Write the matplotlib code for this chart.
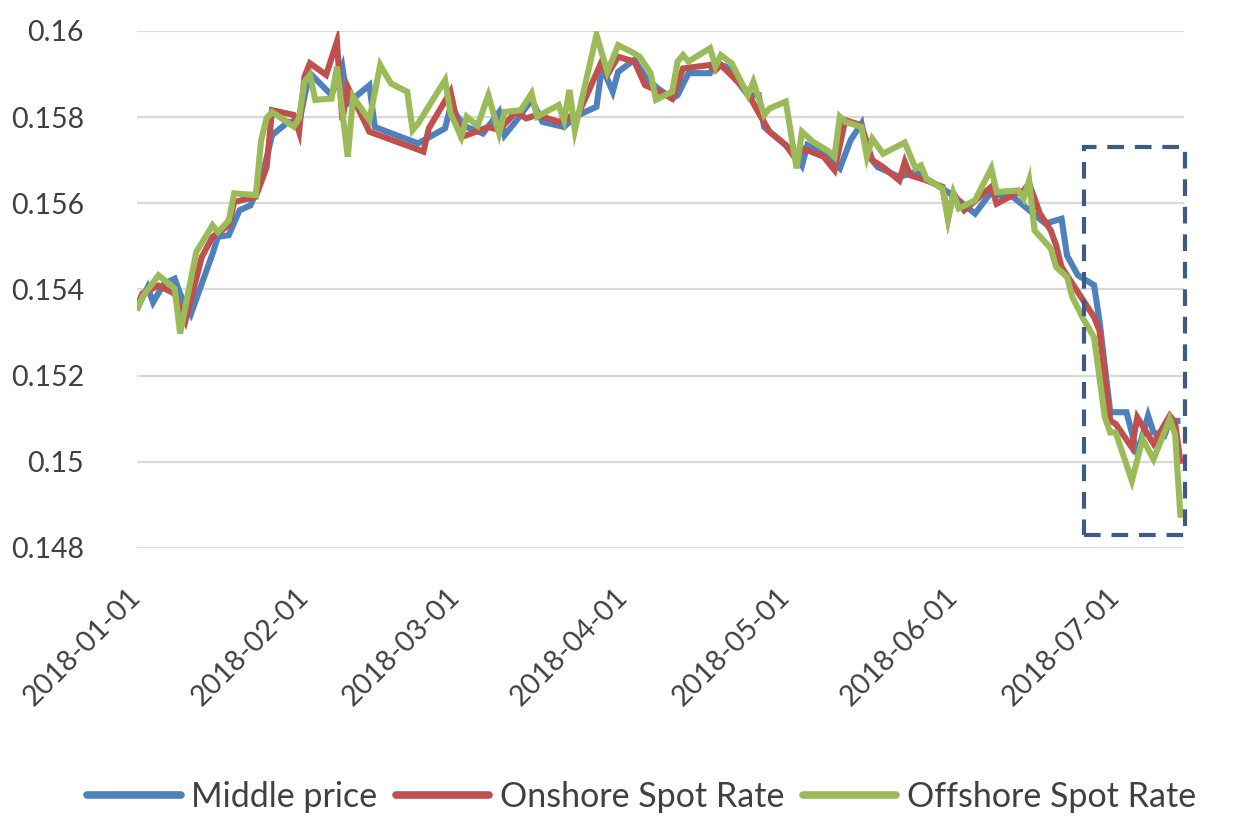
import matplotlib
matplotlib.use("Agg")
import matplotlib.pyplot as plt
import matplotlib.dates as mdates
import pandas as pd
from matplotlib.patches import Rectangle

plt.rcParams['font.family'] = ['Lato', 'DejaVu Sans']

# %% data: day offsets from 2018-01-01 and rates
start = pd.Timestamp('2018-01-01')

mid_days = [0, 2, 3, 5, 7, 8, 10, 12, 14, 15, 17, 19, 21, 23, 25, 28, 30, 31, 32, 36,
            38, 39, 43, 44, 52, 57, 58, 60, 61, 64, 67, 68, 70, 73, 75, 79, 81, 85, 86, 88,
            89, 92, 94, 96, 99, 100, 102, 106, 107, 109, 113, 115, 116, 120, 122, 123, 124, 127, 130, 132,
            134, 135, 137, 141, 144, 150, 152, 155, 158, 159, 162, 165, 168, 171, 172, 174, 177, 178, 180, 183,
            185, 187, 188, 190, 191, 193]
mid_vals = [0.15355, 0.15405, 0.1537, 0.15413, 0.15425, 0.1539, 0.15343, 0.15413, 0.15483, 0.15522,
            0.15526, 0.15584, 0.15595, 0.15653, 0.15758, 0.15789, 0.15786, 0.15847, 0.15902, 0.15851,
            0.15917, 0.15832, 0.15874, 0.15777, 0.15739, 0.15774, 0.15824, 0.15789, 0.15777, 0.15762,
            0.15812, 0.15758, 0.15789, 0.1584, 0.15789, 0.15777, 0.15801, 0.15824, 0.15917, 0.15859,
            0.15905, 0.15933, 0.15894, 0.1587, 0.15843, 0.15851, 0.15902, 0.15902, 0.15925, 0.15917,
            0.15851, 0.15851, 0.15777, 0.15735, 0.15708, 0.15688, 0.15735, 0.15715, 0.15681, 0.15747,
            0.15785, 0.15715, 0.15684, 0.15661, 0.15673, 0.15626, 0.15607, 0.15576, 0.15626, 0.15619,
            0.15615, 0.15584, 0.15553, 0.15564, 0.15479, 0.15433, 0.1541, 0.15328, 0.15115, 0.15115,
            0.15019, 0.15107, 0.15068, 0.1506, 0.15095, 0.15095]

on_days = [0, 1, 4, 7, 9, 12, 14, 17, 18, 22, 24, 25, 29, 30, 31, 32, 35, 37, 38, 39,
           43, 53, 54, 58, 59, 60, 61, 65, 67, 69, 70, 72, 74, 78, 80, 81, 86, 87, 89, 92,
           94, 96, 99, 101, 106, 107, 108, 113, 114, 117, 120, 122, 123, 127, 129, 131, 134, 136, 138, 141,
           142, 143, 146, 149, 150, 151, 153, 158, 159, 162, 164, 165, 167, 169, 170, 171, 174, 177, 178, 180,
           181, 184, 185, 188, 191, 192, 193]
on_vals = [0.1536, 0.1539, 0.15409, 0.1539, 0.15328, 0.15475, 0.15522, 0.15549, 0.15603, 0.15615,
           0.15684, 0.15816, 0.15805, 0.15766, 0.15894, 0.15925, 0.15898, 0.15975, 0.15793, 0.1587,
           0.15766, 0.1572, 0.15774, 0.15859, 0.15801, 0.15754, 0.15758, 0.15777, 0.1577, 0.15797,
           0.15812, 0.15797, 0.15805, 0.15789, 0.15801, 0.15789, 0.1593, 0.15898, 0.1594, 0.15929,
           0.15874, 0.15863, 0.15843, 0.15913, 0.15921, 0.15909, 0.15921, 0.15859, 0.15832, 0.15766,
           0.15735, 0.157, 0.15728, 0.15708, 0.15677, 0.15793, 0.15781, 0.157, 0.15684, 0.15653,
           0.15696, 0.15665, 0.15653, 0.15638, 0.15564, 0.15623, 0.15584, 0.15638, 0.15599, 0.15619,
           0.1563, 0.15646, 0.15576, 0.15537, 0.15502, 0.15452, 0.15394, 0.15336, 0.15305, 0.15095,
           0.15088, 0.15033, 0.15103, 0.15042, 0.15107, 0.15091, 0.14995]

off_days = [0, 1, 4, 7, 8, 11, 14, 15, 17, 18, 22, 23, 24, 25, 29, 30, 31, 32, 33, 36,
            37, 39, 40, 43, 45, 47, 50, 51, 52, 57, 58, 60, 61, 63, 65, 67, 68, 71, 73, 74,
            78, 79, 80, 81, 85, 87, 89, 92, 93, 95, 96, 99, 100, 101, 102, 106, 107, 108, 110, 113,
            114, 116, 117, 120, 122, 123, 125, 128, 129, 130, 131, 134, 135, 136, 138, 142, 144, 145, 146, 149,
            150, 151, 152, 155, 158, 159, 163, 164, 165, 166, 169, 170, 172, 173, 175, 177, 179, 180, 181, 184,
            186, 188, 191, 192, 193]
off_vals = [0.15351, 0.15382, 0.15433, 0.15402, 0.15298, 0.15487, 0.15549, 0.15533, 0.1556, 0.15623,
            0.15619, 0.15747, 0.15798, 0.15812, 0.15778, 0.15798, 0.15882, 0.15898, 0.1584, 0.15843,
            0.15917, 0.15708, 0.15847, 0.15793, 0.15921, 0.15878, 0.15859, 0.1577, 0.15785, 0.15886,
            0.15809, 0.15754, 0.15801, 0.1578, 0.15851, 0.15762, 0.15812, 0.15816, 0.15855, 0.15801,
            0.15828, 0.15793, 0.15863, 0.1577, 0.15991, 0.15905, 0.15967, 0.15948, 0.1594, 0.15902,
            0.1584, 0.15859, 0.15929, 0.15944, 0.15929, 0.1596, 0.15917, 0.15944, 0.15925, 0.15851,
            0.15882, 0.15805, 0.1582, 0.15836, 0.15681, 0.15766, 0.15743, 0.1572, 0.15708, 0.15801,
            0.15789, 0.15777, 0.15708, 0.1575, 0.15715, 0.15741, 0.15681, 0.15688, 0.15657, 0.15634,
            0.15564, 0.15623, 0.15588, 0.15607, 0.15681, 0.15626, 0.1563, 0.15611, 0.15653, 0.15537,
            0.15495, 0.15452, 0.15429, 0.15382, 0.15332, 0.15289, 0.15103, 0.15068, 0.15068, 0.14956,
            0.15053, 0.15006, 0.15099, 0.15064, 0.1487]

series_names = ['Middle price', 'Onshore Spot Rate', 'Offshore Spot Rate']
series_colors = ['#4F81BD', '#C0504D', '#9BBB59']

# highlighted window (days, rate)
box_days = (175.1, 193.8)
box_vals = (0.1483, 0.1573)


def to_dates(days):
    return start + pd.to_timedelta(days, unit='D')


# %% figure
fig = plt.figure(figsize=(12.44, 8.34), dpi=100)
ax = fig.add_axes([0.110, 0.343, 0.8416, 0.6199])

for days, vals, name, col in zip([mid_days, on_days, off_days],
                                 [mid_vals, on_vals, off_vals],
                                 series_names, series_colors):
    ax.plot(to_dates(days), vals, color=col, lw=4.4, label=name,
            solid_joinstyle='miter', solid_capstyle='butt', zorder=3)

# dashed box round the July drop
x0, x1 = mdates.date2num(to_dates(list(box_days)))
rect = Rectangle((x0, box_vals[0]), x1 - x0, box_vals[1] - box_vals[0],
                 fill=False, ec='#3E5B84', lw=3, ls=(0, (4, 2.6)), clip_on=False, zorder=4)
ax.add_patch(rect)

ax.set_ylim(0.148, 0.160)
ax.set_yticks([0.148, 0.150, 0.152, 0.154, 0.156, 0.158, 0.160])
ax.set_yticklabels(['0.148', '0.15', '0.152', '0.154', '0.156', '0.158', '0.16'])
ax.set_xlim(mdates.date2num(start), mdates.date2num(start + pd.Timedelta(days=193.6)))

ticks = pd.date_range('2018-01-01', '2018-07-01', freq='MS')
ax.set_xticks(ticks)
ax.set_xticklabels([t.strftime('%Y-%m-%d') for t in ticks], rotation=45, ha='right',
                   va='center', rotation_mode='anchor')

ax.grid(axis='y', color='#D9D9D9', lw=1.6)
ax.set_axisbelow(True)
for s in ax.spines.values():
    s.set_visible(False)
ax.tick_params(axis='both', length=0, labelsize=20.5, colors='#404040')
ax.tick_params(axis='y', pad=38)
ax.tick_params(axis='x', pad=32)

leg = ax.legend(loc='center', bbox_to_anchor=(0.482, -0.482), ncol=3, frameon=False,
                fontsize=24.5, handlelength=2.75, handletextpad=0.3, columnspacing=0.55,
                labelcolor='#404040')
for h in leg.get_lines():
    h.set_linewidth(5.5)
    h.set_solid_capstyle('round')

fig.savefig('out.png', dpi=100)
